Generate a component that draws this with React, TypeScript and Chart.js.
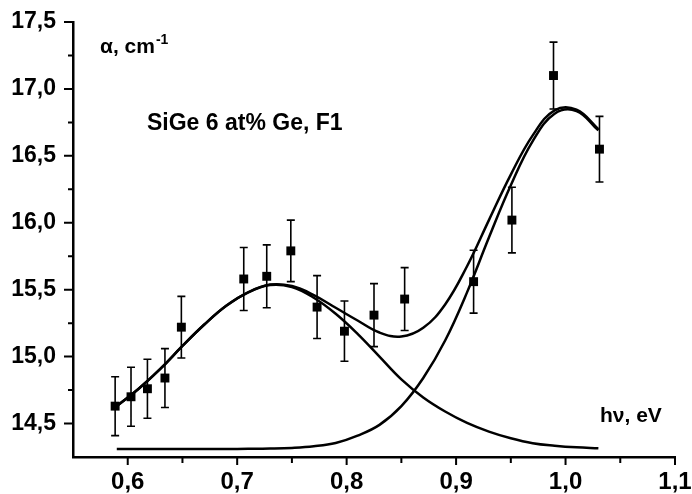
import React, { useEffect, useRef } from 'react';
import { Chart, registerables } from 'chart.js';

Chart.register(...registerables);

// Measured points (photon energy, eV) and absorption with error bars
const photonEnergy = [0.5885, 0.603, 0.618, 0.634, 0.649, 0.706, 0.727, 0.749, 0.773, 0.798, 0.825, 0.853, 0.916, 0.951, 0.989, 1.031];
const absorption = [14.63, 14.70, 14.76, 14.84, 15.22, 15.58, 15.60, 15.79, 15.37, 15.19, 15.31, 15.43, 15.56, 16.02, 17.10, 16.55];
const absorptionError = [0.22, 0.22, 0.22, 0.22, 0.23, 0.235, 0.235, 0.23, 0.235, 0.225, 0.235, 0.235, 0.235, 0.245, 0.25, 0.245];

// Fitted curves
const fitEnergy = [0.59, 0.61, 0.63, 0.65, 0.67, 0.69, 0.71, 0.73, 0.75, 0.77, 0.79, 0.81, 0.83, 0.85, 0.87, 0.89, 0.91, 0.93, 0.95, 0.97, 0.99, 1.01, 1.03];
const peakLow = [14.63, 14.76, 14.91, 15.08, 15.24, 15.38, 15.48, 15.535, 15.52, 15.44, 15.32, 15.17, 15.00, 14.83, 14.695, 14.59, 14.505, 14.44, 14.39, 14.353, 14.334, 14.322, 14.316];
const peakHigh = [14.31, 14.31, 14.31, 14.31, 14.31, 14.31, 14.311, 14.313, 14.318, 14.33, 14.355, 14.41, 14.49, 14.63, 14.84, 15.12, 15.48, 15.89, 16.28, 16.61, 16.815, 16.835, 16.69];
const fitTotal = [14.63, 14.76, 14.91, 15.08, 15.24, 15.38, 15.48, 15.538, 15.527, 15.46, 15.365, 15.27, 15.18, 15.15, 15.215, 15.39, 15.675, 16.02, 16.36, 16.653, 16.84, 16.845, 16.70];

const xTickValues = [0.6, 0.7, 0.8, 0.9, 1.0, 1.1];
const xTickLabels = ['0,6', '0,7', '0,8', '0,9', '1,0', '1,1'];
const yTickValues = [14.5, 15.0, 15.5, 16.0, 16.5, 17.0, 17.5];
const yTickLabels = ['14,5', '15,0', '15,5', '16,0', '16,5', '17,0', '17,5'];

const FONT = "'Liberation Sans', Arial, sans-serif";

export default function App() {
  const ref = useRef<HTMLCanvasElement>(null);

  useEffect(() => {
    const canvas = ref.current;
    if (!canvas) return;
    const pts = (xs: number[], ys: number[]) => xs.map((x, i) => ({ x, y: ys[i] }));

    const errorBars = {
      id: 'errorBars',
      beforeDatasetsDraw(chart: any) {
        const { ctx, scales } = chart;
        const xs = scales.x, ys = scales.y;
        ctx.save();
        ctx.strokeStyle = '#000';
        ctx.lineWidth = 1.6;
        ctx.beginPath();
        photonEnergy.forEach((e, i) => {
          const px = xs.getPixelForValue(e);
          const top = ys.getPixelForValue(absorption[i] + absorptionError[i]);
          const bot = ys.getPixelForValue(absorption[i] - absorptionError[i]);
          ctx.moveTo(px, top); ctx.lineTo(px, bot);
          ctx.moveTo(px - 4, top); ctx.lineTo(px + 4, top);
          ctx.moveTo(px - 4, bot); ctx.lineTo(px + 4, bot);
        });
        ctx.stroke();
        ctx.restore();
      },
    };

    const axisDecor = {
      id: 'axisDecor',
      afterDraw(chart: any) {
        const { ctx, chartArea, scales } = chart;
        const xs = scales.x, ys = scales.y;
        ctx.save();
        ctx.strokeStyle = '#000';
        ctx.lineWidth = 2;
        ctx.beginPath();
        xTickValues.forEach((v, i) => {
          const p = xs.getPixelForValue(v);
          ctx.moveTo(p, chartArea.bottom); ctx.lineTo(p, chartArea.bottom + 8);
          if (i > 0) {
            const m = xs.getPixelForValue((v + xTickValues[i - 1]) / 2);
            ctx.moveTo(m, chartArea.bottom); ctx.lineTo(m, chartArea.bottom + 6);
          }
        });
        yTickValues.forEach((v, i) => {
          const p = ys.getPixelForValue(v);
          ctx.moveTo(chartArea.left, p); ctx.lineTo(chartArea.left - 9, p);
          if (i > 0) {
            const m = ys.getPixelForValue((v + yTickValues[i - 1]) / 2);
            ctx.moveTo(chartArea.left, m); ctx.lineTo(chartArea.left - 5, m);
          }
        });
        ctx.stroke();

        ctx.fillStyle = '#000';
        ctx.textBaseline = 'alphabetic';
        ctx.textAlign = 'left';
        ctx.font = `bold 21px ${FONT}`;
        const a = 'α, cm';
        ctx.fillText(a, 100, 53);
        const w = ctx.measureText(a).width;
        ctx.font = `bold 14px ${FONT}`;
        ctx.fillText('-1', 100 + w + 1, 44);
        ctx.font = `bold 23px ${FONT}`;
        ctx.fillText('SiGe 6 at% Ge, F1', 147, 130);
        ctx.font = `bold 21px ${FONT}`;
        ctx.fillText('hν, eV', 600, 422);
        ctx.restore();
      },
    };

    const lineStyle = { showLine: true, borderColor: '#000', borderWidth: 2.5, pointRadius: 0, tension: 0.4, fill: false };

    const chart = new Chart(canvas, {
      type: 'scatter',
      data: {
        datasets: [
          { data: pts(fitEnergy, fitTotal), ...lineStyle },
          { data: pts(fitEnergy, peakLow), ...lineStyle },
          { data: pts(fitEnergy, peakHigh), ...lineStyle },
          { data: pts(photonEnergy, absorption), showLine: false, pointStyle: 'rect', pointRadius: 6.3, backgroundColor: '#000', borderColor: '#000', borderWidth: 0 },
        ],
      } as any,
      options: {
        animation: false,
        responsive: false,
        maintainAspectRatio: false,
        devicePixelRatio: 1,
        layout: { padding: { top: 22, right: 17, left: 0, bottom: 0 } },
        plugins: { legend: { display: false }, tooltip: { enabled: false } },
        scales: {
          x: {
            type: 'linear',
            min: 0.55,
            max: 1.1,
            grid: { display: false },
            border: { display: true, color: '#000', width: 2.5 },
            afterBuildTicks: (s: any) => { s.ticks = xTickValues.map((v) => ({ value: v })); },
            afterFit: (s: any) => { s.height = 37; s.paddingLeft = 0; s.paddingRight = 0; s.paddingTop = 0; s.paddingBottom = 0; },
            ticks: {
              color: '#000',
              padding: 3,
              font: { family: FONT, size: 24, weight: 'bold' },
              callback: (_v: any, i: number) => xTickLabels[i],
            },
          },
          y: {
            type: 'linear',
            min: 14.25,
            max: 17.5,
            grid: { display: false },
            border: { display: true, color: '#000', width: 2.5 },
            afterBuildTicks: (s: any) => { s.ticks = yTickValues.map((v) => ({ value: v })); },
            afterFit: (s: any) => { s.width = 73; s.paddingLeft = 0; s.paddingRight = 0; s.paddingTop = 0; s.paddingBottom = 0; },
            ticks: {
              color: '#000',
              padding: 9,
              font: { family: FONT, size: 23, weight: 'bold' },
              callback: (_v: any, i: number) => yTickLabels[i],
            },
          },
        },
      } as any,
      plugins: [errorBars, axisDecor],
    });
    return () => chart.destroy();
  }, []);

  return (
    <div style={{ position: 'absolute', left: 0, top: 0, width: 692, height: 494, background: '#fff' }}>
      <canvas ref={ref} width={692} height={494} style={{ display: 'block' }} />
    </div>
  );
}
